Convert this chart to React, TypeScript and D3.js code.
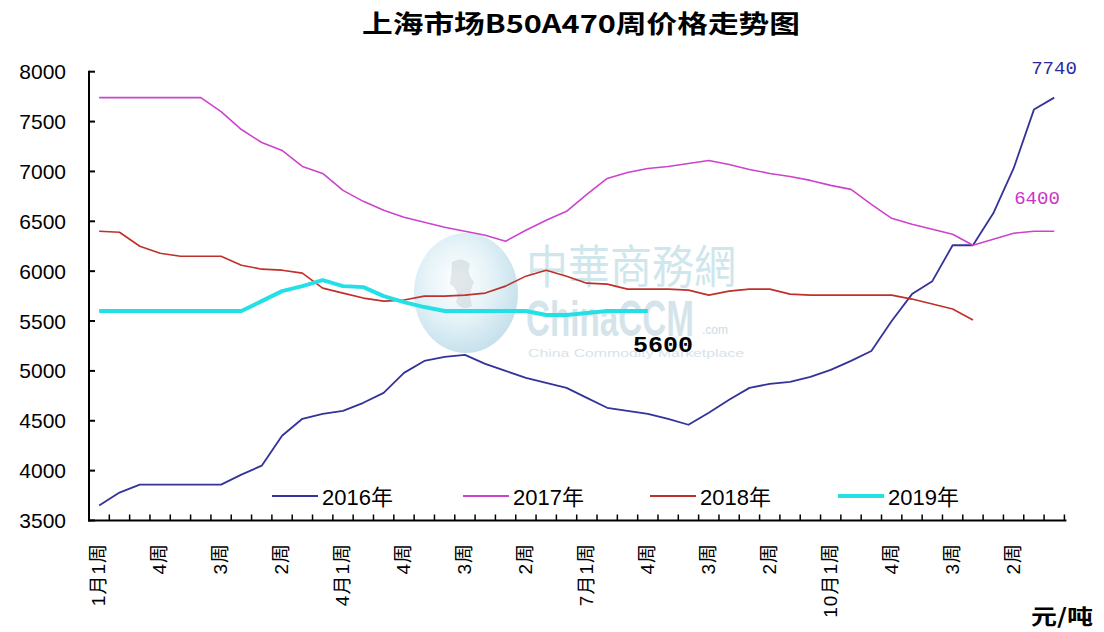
import React from "react";
import * as d3 from "d3";

const title = "上海市场B50A470周价格走势图";
const unitLabel = "元/吨";

const weekLabels = [
  "1月1周", "2周", "3周", "4周",
  "2月1周", "2周", "3周", "4周",
  "3月1周", "2周", "3周", "4周",
  "4月1周", "2周", "3周", "4周",
  "5月1周", "2周", "3周", "4周",
  "6月1周", "2周", "3周", "4周",
  "7月1周", "2周", "3周", "4周",
  "8月1周", "2周", "3周", "4周",
  "9月1周", "2周", "3周", "4周",
  "10月1周", "2周", "3周", "4周",
  "11月1周", "2周", "3周", "4周",
  "12月1周", "2周", "3周", "4周",
];

const seriesNames = ["2016年", "2017年", "2018年", "2019年"];

const s2016 = [
  3650, 3780, 3860, 3860, 3860, 3860, 3860, 3960, 4050, 4350, 4520, 4570,
  4600, 4680, 4780, 4980, 5100, 5140, 5160, 5070, 5000, 4930, 4880, 4830,
  4730, 4630, 4600, 4570, 4520, 4460, 4580, 4710, 4830, 4870, 4890, 4940,
  5010, 5100, 5200, 5500, 5770, 5900, 6260, 6260, 6580, 7030, 7620, 7740,
];
const s2017 = [
  7740, 7740, 7740, 7740, 7740, 7740, 7600, 7420, 7290, 7210, 7050, 6980,
  6810, 6700, 6610, 6540, 6490, 6440, 6400, 6360, 6300, 6410, 6510, 6600,
  6770, 6930, 6990, 7030, 7050, 7080, 7110, 7070, 7020, 6980, 6950, 6910,
  6860, 6820, 6670, 6530, 6470, 6420, 6370, 6260, 6320, 6380, 6400, 6400,
];
const s2018 = [
  6400, 6390, 6250, 6180, 6150, 6150, 6150, 6060, 6020, 6010, 5980, 5830,
  5780, 5730, 5700, 5710, 5750, 5750, 5760, 5780, 5850, 5950, 6010, 5950,
  5880, 5870, 5820, 5820, 5820, 5810, 5760, 5800, 5820, 5820, 5770, 5760,
  5760, 5760, 5760, 5760, 5720, 5670, 5620, 5510,
];
const s2019 = [
  5600, 5600, 5600, 5600, 5600, 5600, 5600, 5600, 5700, 5800, 5850, 5910,
  5850, 5840, 5750, 5690, 5640, 5600, 5600, 5600, 5600, 5600, 5560, 5560,
  5580, 5600, 5600, 5600,
];

const yTickValues = [3500, 4000, 4500, 5000, 5500, 6000, 6500, 7000, 7500, 8000];

const seriesData = [s2016, s2017, s2018, s2019];
const colors = ["#333399", "#cc44cc", "#c0302a", "#22e0e6"];
const widths = [1.8, 1.6, 1.6, 4];

export default function App() {
  const W = 1104;
  const H = 632;
  const left = 89;
  const right = 1064.4;
  const top = 71.7;
  const bottom = 520.5;

  const x = d3
    .scaleBand<number>()
    .domain(d3.range(weekLabels.length))
    .range([left, right])
    .padding(0);
  const cx = (i: number) => (x(i) as number) + x.bandwidth() / 2;
  const y = d3.scaleLinear().domain([3500, 8000]).range([bottom, top]);

  const line = d3
    .line<number>()
    .x((_, i) => cx(i))
    .y((d) => y(d));

  const legendX = [272, 463, 650, 838];
  const sans = "'Liberation Sans', Arial, 'Noto Sans CJK SC', sans-serif";
  const cjk = "'Noto Sans CJK SC', 'Liberation Sans', sans-serif";

  const last16 = s2016[s2016.length - 1];
  const last17 = s2017[s2017.length - 1];
  const last19 = s2019[s2019.length - 1];

  return (
    <svg
      width={W}
      height={H}
      style={{ position: "absolute", left: 0, top: 0, background: "#fff" }}
    >
      <defs>
        <radialGradient id="globe" cx="0.42" cy="0.4" r="0.6">
          <stop offset="0" stopColor="#ffffff" />
          <stop offset="0.55" stopColor="#d9edf4" />
          <stop offset="1" stopColor="#b0d5e5" />
        </radialGradient>
      </defs>
      <rect x={0} y={0} width={W} height={H} fill="#fff" />

      {/* watermark */}
      <g>
        <ellipse cx={466} cy={293} rx={52} ry={60} fill="url(#globe)" opacity={0.7} />
        <path
          d="M452,262 q10,-6 18,2 q-4,10 4,18 q-6,12 -2,24 q-10,6 -16,-4 q4,-12 -6,-18 q2,-12 2,-22z"
          fill="#bcc6cc"
          opacity={0.4}
        />
        <text
          x={526}
          y={283}
          fontFamily={cjk}
          fontSize={46}
          fill="#bfe0e6"
          opacity={0.75}
          textLength={210}
          lengthAdjust="spacingAndGlyphs"
        >
          中華商務網
        </text>
        <text
          x={526}
          y={336}
          fontFamily={sans}
          fontWeight="bold"
          fontSize={50}
          fill="#c8dce5"
          opacity={0.75}
          textLength={168}
          lengthAdjust="spacingAndGlyphs"
        >
          ChinaCCM
        </text>
        <text x={702} y={334} fontFamily={sans} fontSize={12} fill="#cadde6">
          .com
        </text>
        <text
          x={528}
          y={357}
          fontFamily={sans}
          fontSize={11}
          fill="#d8e3e8"
          textLength={216}
          lengthAdjust="spacingAndGlyphs"
        >
          China Commodity Marketplace
        </text>
      </g>

      {/* title */}
      <text
        x={581}
        y={33}
        textAnchor="middle"
        fontFamily={cjk}
        fontWeight="bold"
        fontSize={25}
        fill="#000"
        textLength={438}
        lengthAdjust="spacingAndGlyphs"
      >
        {title}
      </text>

      {/* y axis */}
      <line x1={left} x2={left} y1={top - 1} y2={bottom + 1} stroke="#000" strokeWidth={2} />
      {yTickValues.map((v) => (
        <g key={v}>
          <line x1={left} x2={left + 6} y1={y(v)} y2={y(v)} stroke="#000" strokeWidth={2} />
          <text
            x={66}
            y={y(v)}
            dy="0.36em"
            textAnchor="end"
            fontFamily={sans}
            fontSize={21}
            fill="#000"
          >
            {v}
          </text>
        </g>
      ))}

      {/* x axis */}
      <line x1={left - 1} x2={right + 2} y1={bottom} y2={bottom} stroke="#000" strokeWidth={2} />
      {weekLabels.map((_, i) => (
        <line
          key={"t" + i}
          x1={(x(i) as number) + x.bandwidth()}
          x2={(x(i) as number) + x.bandwidth()}
          y1={bottom}
          y2={bottom - 6}
          stroke="#000"
          strokeWidth={1.5}
        />
      ))}
      {weekLabels.map((lab, i) =>
        i % 3 === 0 ? (
          <text
            key={"l" + i}
            transform={`translate(${cx(i)},543) rotate(-90)`}
            dy="0.32em"
            textAnchor="end"
            fontFamily={sans}
            fontSize={19}
            letterSpacing={1}
            fill="#000"
          >
            {lab}
          </text>
        ) : null
      )}

      {/* series */}
      {seriesData.map((s, k) => (
        <path
          key={"s" + k}
          d={line(s) as string}
          fill="none"
          stroke={colors[k]}
          strokeWidth={widths[k]}
          strokeLinejoin="round"
        />
      ))}

      {/* legend */}
      {seriesNames.map((n, k) => (
        <g key={"lg" + k}>
          <line
            x1={legendX[k]}
            x2={legendX[k] + 46}
            y1={496}
            y2={496}
            stroke={colors[k]}
            strokeWidth={widths[k] > 3 ? 4 : 2}
          />
          <text
            x={legendX[k] + 50}
            y={505}
            fontFamily={sans}
            fontSize={22}
            fill="#000"
          >
            {n}
          </text>
        </g>
      ))}

      {/* annotations */}
      <text
        x={1054}
        y={74}
        textAnchor="middle"
        fontFamily="'Liberation Mono', monospace"
        fontSize={19}
        fill="#2a2aa0"
      >
        {last16}
      </text>
      <text
        x={1037}
        y={204}
        textAnchor="middle"
        fontFamily="'Liberation Mono', monospace"
        fontSize={19}
        fill="#cc33cc"
      >
        {last17}
      </text>
      <text
        x={663}
        y={352}
        textAnchor="middle"
        fontFamily="'Liberation Mono', monospace"
        fontWeight="bold"
        fontSize={22}
        fill="#000"
        textLength={60}
        lengthAdjust="spacingAndGlyphs"
      >
        {last19}
      </text>
      <text
        x={1062}
        y={624}
        textAnchor="middle"
        fontFamily={cjk}
        fontWeight="bold"
        fontSize={21}
        fill="#000"
        textLength={62}
        lengthAdjust="spacingAndGlyphs"
      >
        {unitLabel}
      </text>
    </svg>
  );
}
